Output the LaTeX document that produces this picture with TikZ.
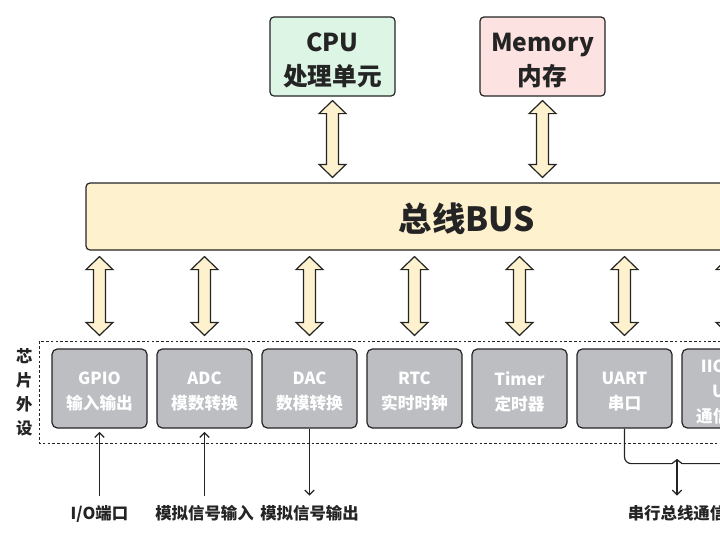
\documentclass[tikz,border=0pt]{standalone}
\usepackage{fontspec}
\setmainfont{Noto Sans CJK SC}
\usetikzlibrary{calc,arrows.meta}

\definecolor{cpugreen}{RGB}{221,245,228}
\definecolor{mempink}{RGB}{253,226,226}
\definecolor{busyellow}{RGB}{253,241,206}
\definecolor{perigray}{RGB}{188,190,194}
\definecolor{inkdark}{RGB}{36,36,36}

\tikzset{every picture/.style={line width=0.75pt}}
\tikzset{
  unitbox/.style={draw=inkdark, line width=0.9pt, rounded corners=3pt, inner sep=0pt,
    minimum width=93.75pt, minimum height=59.25pt},
  unittext/.style={align=center, text=inkdark, inner sep=0pt, yshift=-3pt,
    font=\bfseries\fontsize{18.5}{26}\selectfont},
  busbox/.style={draw=inkdark, line width=0.9pt, rounded corners=3pt, fill=busyellow, inner sep=0pt,
    minimum width=571.5pt, minimum height=50.25pt},
  bustext/.style={text=inkdark, inner sep=0pt, yshift=-1.5pt,
    font=\bfseries\fontsize{25}{30}\selectfont},
  peribox/.style={draw=inkdark, line width=0.9pt, rounded corners=4pt, fill=perigray, inner sep=0pt,
    minimum width=71.25pt, minimum height=59.25pt},
  peritext/.style={align=center, text=white, inner sep=0pt, yshift=-2.2pt,
    font=\bfseries\fontsize{12.5}{18.75}\selectfont},
  busarrowstyle/.style={draw=inkdark, line width=0.9pt, fill=busyellow, line join=miter},
  sigline/.style={draw=inkdark, line width=0.9pt},
  sigarrow/.style={sigline, -{Straight Barb[length=3.5pt,width=7pt]}},
  siglabel/.style={text=inkdark, inner sep=0pt, font=\bfseries\fontsize{12.3}{15}\selectfont}
}

% double headed bus connector: #1 top tip, #2 bottom tip
\newcommand{\busarrow}[2]{%
  \draw[busarrowstyle] (#1) -- ($(#1)+(13.5,13)$) -- ($(#1)+(6,13)$) -- ($(#2)+(6,-13)$)
    -- ($(#2)+(13.5,-13)$) -- (#2) -- ($(#2)+(-13.5,-13)$) -- ($(#2)+(-6,-13)$)
    -- ($(#1)+(-6,13)$) -- ($(#1)+(-13.5,13)$) -- cycle;}

\begin{document}
\begin{tikzpicture}[x=0.75pt,y=0.75pt,yscale=-1,xscale=1]
\useasboundingbox (0,0) rectangle (720,540);
\clip (0,0) rectangle (720,540);

%Top units
\node[unitbox, fill=cpugreen, label={[unittext]center:{CPU\\处理单元}}] (cpu) at (332.5,56.5) {};
\node[unitbox, fill=mempink, label={[unittext]center:{Memory\\内存}}] (mem) at (542.5,56.5) {};

%Bus
\node[busbox, label={[bustext]center:总线BUS}] (bus) at (467,216.5) {};

%Peripherals
\node[peribox, label={[peritext]center:{GPIO\\输入输出}}] (gpio) at (99.5,388.5) {};
\node[peribox, label={[peritext]center:{ADC\\模数转换}}] (adc) at (204.5,388.5) {};
\node[peribox, label={[peritext]center:{DAC\\数模转换}}] (dac) at (309.5,388.5) {};
\node[peribox, label={[peritext]center:{RTC\\实时时钟}}] (rtc) at (414.5,388.5) {};
\node[peribox, label={[peritext]center:{Timer\\定时器}}] (timer) at (519.5,388.5) {};
\node[peribox, label={[peritext]center:{UART\\串口}}] (uart) at (624.5,388.5) {};
\node[peribox, label={[peritext]center:{IIC/SPI\\USB\\通信接口}}] (iic) at (729.5,388.5) {};

%Peripheral group
\coordinate (grpNW) at ($(gpio.north west)+(-12,-7)$);
\coordinate (grpSE) at ($(iic.south east)+(117,15)$);
\draw[inkdark, line width=1.1pt, dash pattern=on 2pt off 1.6pt] (grpNW) rectangle (grpSE);
\node[text=inkdark, inner sep=0pt, align=center, font=\bfseries\fontsize{12.3}{18}\selectfont]
  (chiplbl) at ($(grpNW)+(-15,51)$) {芯\\片\\外\\设};

%CPU / Memory to bus
\busarrow{$(cpu.south)+(0,4)$}{$(cpu.south |- bus.north)+(0,-5)$}
\busarrow{$(mem.south)+(0,4)$}{$(mem.south |- bus.north)+(0,-5)$}

%Bus to peripherals
\foreach \p in {gpio,adc,dac,rtc,timer,uart,iic}{
  \busarrow{$(\p.north |- bus.south)+(0,6)$}{$(\p.north |- grpNW)+(0,-6)$}
}

%Signals
\coordinate (ioend) at ($(gpio.south)+(0,67)$);
\coordinate (adcend) at ($(adc.south)+(0,67)$);
\coordinate (dacend) at ($(dac.south)+(0,67)$);
\draw[sigarrow, shorten >=2.5pt] (ioend) -- (gpio.south);
\draw[sigarrow, shorten >=2.5pt] (adcend) -- (adc.south);
\draw[sigarrow] (dac.south) -- (dacend);
\node[siglabel] (iolbl) at ($(gpio.south)+(0,85)$) {I/O端口};
\node[siglabel] (adclbl) at ($(adc.south)+(0,85)$) {模拟信号输入};
\node[siglabel] (daclbl) at ($(dac.south)+(0,85)$) {模拟信号输出};

%Serial bracket
\coordinate (sermid) at ($(uart.south)!0.5!(iic.south)$);
\coordinate (serjoin) at ($(sermid)+(0,31)$);
\coordinate (serend) at ($(sermid)+(0,67)$);
\draw[sigline, rounded corners=5pt] (uart.south) |- ($(serjoin)+(-5,4)$);
\draw[sigline, rounded corners=5pt] (iic.south) |- ($(serjoin)+(5,4)$);
\draw[sigline, line join=round] ($(serjoin)+(-5,4)$) -- (serjoin) -- ($(serjoin)+(5,4)$);
\draw[sigarrow] (serjoin) -- (serend);
\node[siglabel] (serlbl) at ($(sermid)+(0,85)$) {串行总线通信};

\end{tikzpicture}
\end{document}
